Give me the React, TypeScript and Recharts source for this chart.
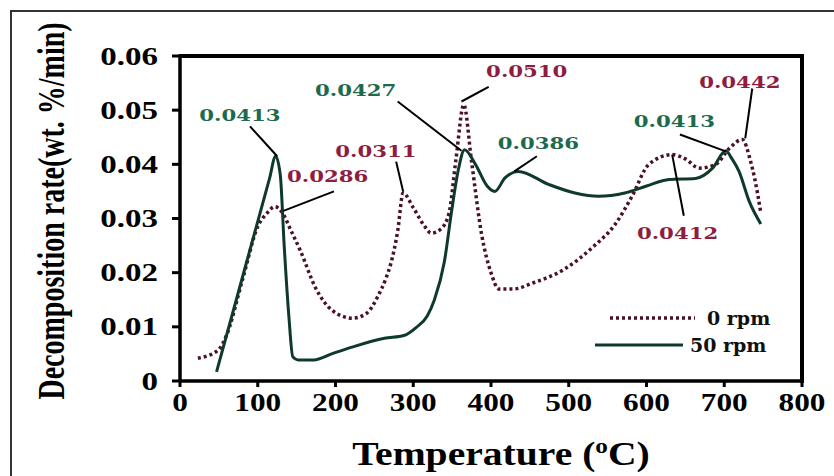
import React from "react";
import {
  Legend,
  Line,
  LineChart,
  ReferenceArea,
  ReferenceDot,
  ReferenceLine,
  XAxis,
  YAxis,
} from "recharts";

// 0 rpm (dotted)
const TEMP_0RPM = [
  23, 49, 60, 80, 100, 112, 122, 132, 142, 155, 174, 196, 222, 240, 254, 265, 271, 280, 287, 300, 315,
  323, 335, 346, 355, 365, 375, 388, 400, 410, 430, 452, 495, 530, 560, 581, 603, 633, 650, 668, 689,
  707, 723, 734, 743, 747,
];
const RATE_0RPM = [
  0.0042, 0.0057, 0.0085, 0.0185, 0.0285, 0.031, 0.0322, 0.031, 0.028, 0.024, 0.0173, 0.013, 0.0116,
  0.0125, 0.0155, 0.019, 0.0216, 0.0277, 0.0347, 0.032, 0.0285, 0.0273, 0.028, 0.031, 0.041, 0.051,
  0.0405, 0.027, 0.02, 0.017, 0.017, 0.018, 0.0207, 0.0246, 0.029, 0.034, 0.04, 0.0418, 0.041, 0.0393,
  0.04, 0.043, 0.0446, 0.0405, 0.0345, 0.031,
];

// 50 rpm (solid)
const TEMP_50RPM = [
  47, 85, 115, 123, 129, 134, 140, 145, 152, 172, 195, 220, 263, 288, 304, 318, 327, 340, 349, 358, 366,
  380, 395, 405, 418, 435, 474, 508, 538, 572, 600, 629, 663, 685, 702, 710, 719, 732, 747,
];
const RATE_50RPM = [
  0.0017, 0.0216, 0.0373, 0.0415, 0.038, 0.025, 0.012, 0.0045, 0.0039, 0.0039, 0.005, 0.0062, 0.0079,
  0.0084, 0.0099, 0.012, 0.0149, 0.022, 0.031, 0.039, 0.0427, 0.04, 0.036, 0.035, 0.0375, 0.0387, 0.0363,
  0.0347, 0.0341, 0.0347, 0.036, 0.0372, 0.0374, 0.0393, 0.0425, 0.041, 0.0387, 0.0332, 0.029,
];

const X_TICKS = [0, 100, 200, 300, 400, 500, 600, 700, 800];
const Y_TICKS = [0, 0.01, 0.02, 0.03, 0.04, 0.05, 0.06];

const GREEN = "#1d6a4c";
const RED = "#8e1d40";
const LINE_GREEN = "#0f3a28";
const LINE_RED = "#4a1222";

// peak callouts: label text, label anchor, leader line from/to
const CALLOUTS = [
  { text: "0.0413", color: GREEN, tx: 77, ty: 0.0492, x1: 90, y1: 0.047, x2: 125, y2: 0.0415 },
  { text: "0.0286", color: RED, tx: 190, ty: 0.0378, x1: 198, y1: 0.035, x2: 133, y2: 0.0314 },
  { text: "0.0427", color: GREEN, tx: 226, ty: 0.0538, x1: 280, y1: 0.0516, x2: 362, y2: 0.0425 },
  { text: "0.0311", color: RED, tx: 252, ty: 0.0424, x1: 278, y1: 0.0405, x2: 287, y2: 0.035 },
  { text: "0.0510", color: RED, tx: 446, ty: 0.0572, x1: 397, y1: 0.0543, x2: 362, y2: 0.0516 },
  { text: "0.0386", color: GREEN, tx: 461, ty: 0.0439, x1: 459, y1: 0.0415, x2: 430, y2: 0.0387 },
  { text: "0.0413", color: GREEN, tx: 636, ty: 0.048, x1: 643, y1: 0.0455, x2: 702, y2: 0.0424 },
  { text: "0.0442", color: RED, tx: 720, ty: 0.0552, x1: 736, y1: 0.054, x2: 727, y2: 0.0448 },
  { text: "0.0412", color: RED, tx: 640, ty: 0.0274, x1: 648, y1: 0.0305, x2: 633, y2: 0.0418 },
];

const zeroData = TEMP_0RPM.map((t, i) => ({ t, v: RATE_0RPM[i] }));
const fiftyData = TEMP_50RPM.map((t, i) => ({ t, v: RATE_50RPM[i] }));

const X_MAX = X_TICKS[X_TICKS.length - 1];
const Y_MAX = Y_TICKS[Y_TICKS.length - 1];

const SERIF = "'Liberation Serif', 'Times New Roman', serif";
const WIDE = "'DejaVu Serif', serif";

function XTick({ x, y, payload }: any) {
  return (
    <g transform={`translate(${x},${y + 4})`}>
      <text
        transform="scale(1.25,1)"
        textAnchor="middle"
        dy="0.72em"
        fontFamily={SERIF}
        fontWeight="bold"
        fontSize={25}
        fill="#000"
      >
        {payload.value}
      </text>
    </g>
  );
}

function YTick({ x, y, payload }: any) {
  const label = payload.value === 0 ? "0" : payload.value.toFixed(2);
  return (
    <g transform={`translate(${x},${y})`}>
      <text
        transform="scale(1.32,1)"
        textAnchor="end"
        dy="0.34em"
        fontFamily={SERIF}
        fontWeight="bold"
        fontSize={25}
        fill="#000"
      >
        {label}
      </text>
    </g>
  );
}

function CalloutText({ cx, cy, text, color }: any) {
  return (
    <g transform={`translate(${cx},${cy})`}>
      <text
        transform="scale(1.25,1)"
        textAnchor="middle"
        dy="0.36em"
        fontFamily={WIDE}
        fontWeight="bold"
        fontSize={17}
        fill={color}
      >
        {text}
      </text>
    </g>
  );
}

function LegendBox() {
  const rows = [
    { name: "0 rpm", dash: "3 3", color: LINE_RED, width: 3.5, x0: 20, x1: 105, tx: 117 },
    { name: "50 rpm", dash: undefined, color: LINE_GREEN, width: 3, x0: 5, x1: 93, tx: 100 },
  ];
  return (
    <svg width={200} height={60}>
      {rows.map((r, i) => (
        <g key={r.name} transform={`translate(0,${14 + i * 27})`}>
          <line x1={r.x0} x2={r.x1} y1={0} y2={0} stroke={r.color} strokeWidth={r.width} strokeDasharray={r.dash} />
          <text x={r.tx} dy="0.35em" fontFamily={WIDE} fontWeight="bold" fontSize={19} fill="#111">
            {r.name}
          </text>
        </g>
      ))}
    </svg>
  );
}

export default function App() {
  return (
    <div style={{ position: "absolute", left: 0, top: 0, width: 834, height: 476, background: "#fff", overflow: "hidden" }}>
      <div
        style={{
          position: "absolute",
          left: 10,
          top: 10,
          width: 840,
          height: 500,
          border: "2px solid #333",
        }}
      />
      <LineChart
        width={834}
        height={476}
        margin={{ top: 56, right: 32, bottom: 45, left: 0 }}
        style={{ position: "absolute", left: 0, top: 0 }}
      >
        <XAxis
          type="number"
          dataKey="t"
          domain={[0, X_MAX]}
          ticks={X_TICKS}
          height={50}
          tickSize={6}
          tick={<XTick />}
          axisLine={{ stroke: "#000", strokeWidth: 3 }}
          tickLine={{ stroke: "#000", strokeWidth: 3 }}
        />
        <YAxis
          type="number"
          domain={[0, Y_MAX]}
          ticks={Y_TICKS}
          width={180}
          tickSize={8}
          tickMargin={14}
          tick={<YTick />}
          axisLine={{ stroke: "#000", strokeWidth: 3 }}
          tickLine={{ stroke: "#000", strokeWidth: 3 }}
        />
        {/* plot frame */}
        <ReferenceArea
          x1={0}
          x2={X_MAX}
          y1={0}
          y2={Y_MAX}
          fill="none"
          fillOpacity={0}
          stroke="#000"
          strokeWidth={3}
          strokeOpacity={1}
          ifOverflow="visible"
        />
        <Line
          data={zeroData}
          dataKey="v"
          name="0 rpm"
          type="monotone"
          stroke={LINE_RED}
          strokeWidth={3.5}
          strokeDasharray="3 3"
          dot={false}
          isAnimationActive={false}
        />
        <Line
          data={fiftyData}
          dataKey="v"
          name="50 rpm"
          type="monotone"
          stroke={LINE_GREEN}
          strokeWidth={3}
          dot={false}
          isAnimationActive={false}
        />
        {CALLOUTS.map((c, i) => (
          <ReferenceLine
            key={`l${i}`}
            segment={[
              { x: c.x1, y: c.y1 },
              { x: c.x2, y: c.y2 },
            ]}
            stroke="#000"
            strokeWidth={2}
          />
        ))}
        {CALLOUTS.map((c, i) => (
          <ReferenceDot
            key={`t${i}`}
            x={c.tx}
            y={c.ty}
            r={0}
            shape={(p: any) => <CalloutText cx={p.cx} cy={p.cy} text={c.text} color={c.color} />}
          />
        ))}
        <Legend
          layout="vertical"
          align="center"
          verticalAlign="middle"
          wrapperStyle={{ left: 590, top: 304, width: 200 }}
          content={() => <LegendBox />}
        />
      </LineChart>
      <div
        style={{
          position: "absolute",
          left: 179,
          top: 54,
          width: 621,
          height: 325,
          borderTop: "4px solid #000",
          borderRight: "4px solid #000",
          pointerEvents: "none",
          zIndex: 10,
        }}
      />
      <div
        style={{
          position: "absolute",
          left: 501,
          top: 453,
          transform: "translate(-50%,-50%) scale(1.2,1)",
          fontFamily: SERIF,
          fontWeight: "bold",
          fontSize: 33,
          whiteSpace: "nowrap",
          color: "#000",
        }}
      >
        Temperature (<sup style={{ fontSize: 21 }}>o</sup>C)
      </div>
      <div
        style={{
          position: "absolute",
          left: 52,
          top: 211,
          transform: "translate(-50%,-50%) rotate(-90deg) scale(1,1.32)",
          fontFamily: SERIF,
          fontWeight: "bold",
          fontSize: 28,
          whiteSpace: "nowrap",
          color: "#000",
        }}
      >
        Decomposition rate(wt. %/min)
      </div>
    </div>
  );
}
